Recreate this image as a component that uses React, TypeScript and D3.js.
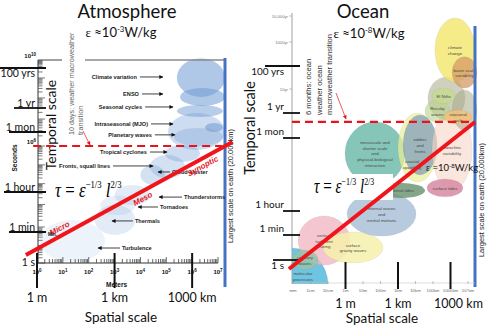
import React from "react";
import * as d3 from "d3";

// ---------- shared axis labels ----------
const timeLabels = ["1 s", "1 min", "1 hour", "1 mon", "1 yr", "100 yrs"];
const timeSeconds = [1, 60, 3600, 2.6e6, 3.15e7, 3.15e9];
const spaceLabels = ["1 m", "1 km", "1000 km"];
const spaceMeters = [1, 1e3, 1e6];

// ---------- atmosphere ----------
const atmMeterExponents = [0, 1, 2, 3, 4, 5, 6, 7];
const atmSecondExponents = [6, 10];

// phenomena blobs, extents in log10 metres / log10 seconds
const atmBlobL = [
  [0.12, 2.63], [2.24, 3.8], [2.44, 3.8], [3.0, 4.37], [4.0, 4.95], [4.37, 5.72],
  [4.95, 6.3], [5.07, 7.27], [5.3, 7.2], [6.5, 7.19], [5.41, 7.19], [5.41, 7.27], [5.53, 7.27],
];
const atmBlobT = [
  [0.06, 2.31], [1.61, 2.98], [2.53, 3.4], [2.97, 3.93], [3.93, 4.99], [4.3, 5.52],
  [5.15, 6.03], [5.79, 7.27], [6.0, 6.6], [6.415, 6.82], [7.09, 7.65], [8.05, 10.1], [7.6, 8.5],
];
const atmBlobTone = [0.12, 0.2, 0.15, 0.2, 0.3, 0.3, 0.35, 0.35, 0.3, 0.55, 0.5, 0.55, 0.55];

const atmPhenomena = [
  "Climate variation", "ENSO", "Seasonal cycles", "Intraseasonal (MJO)", "Planetary waves",
  "Tropical cyclones", "Fronts, squall lines", "Cloud cluster", "Thunderstorms", "Tornadoes",
  "Thermals", "Turbulence",
];
const atmPhenomenaT = [9.05, 8.2, 7.55, 6.78, 6.33, 5.68, 4.94, 4.62, 3.33, 2.89, 2.27, 0.86];
const atmArrowTip = [4.87, 4.87, 5.26, 5.26, 5.34, 5.03, 4.49, 4.68, 4.72, 3.91, 2.9, 2.36];
const atmArrowTail = [3.98, 4.06, 4.18, 4.41, 4.56, 4.37, 2.94, 5.14, 5.61, 4.68, 3.71, 3.21];

const atmLineL = [-0.43, 7.56];
const atmLineT = [0.46, 6.12];
const atmTransitionT = 6;
const atmTransitionL = [-0.15, 7.15];

// ---------- ocean ----------
const oceanMinorLabels = ["10yr", "1000yr", "10,000yr"];
const oceanMinorSeconds = [3.15e8, 3.15e10, 3.15e11];
const oceanSpaceTicks = ["mm", "1cm", "10cm", "1m", "10m", "100m", "1km", "10km", "100km", "1000km", "10⁴km"];

const oceanBlobNames = [
  "molecular|processes", "vertical|turbulent|mixing", "surface|gravity waves", "capillary|waves",
  "internal waves|and|inertial motions", "mesoscale and|shorter scale|and|physical-biological|interaction",
  "coastal|upwelling", "eddies|and|fronts", "baroclinic|variability", "internal tides", "surface tides",
  "", "", "Rossby|waves", "El Niño", "seasonal|cycle", "climate|change", "basin scale|variability",
];
const oceanBlobL = [
  [-5.1, -1.0], [-2.71, 0.26], [-1.29, 2.14], [-3.06, -1.57], [0.09, 4.03], [-0.03, 3.4],
  [3.0, 5.23], [3.29, 5.23], [4.94, 7.23], [1.86, 4.54], [4.66, 6.71],
  [4.71, 6.83], [6.09, 7.51], [4.54, 5.97], [4.94, 6.26], [5.63, 7.23], [5.11, 7.4], [6.09, 7.51],
];
const oceanBlobT = [
  [-4.27, 0.85], [-0.36, 3.19], [-0.21, 2.0], [-0.71, 0.71], [1.7, 4.3], [4.58, 7.2],
  [4.69, 7.5], [4.97, 7.43], [4.38, 7.62], [4.07, 4.65], [4.11, 4.81],
  [7.27, 9.02], [6.81, 8.46], [7.2, 8.04], [7.88, 8.54], [7.1, 7.62], [8.8, 11.42], [8.54, 9.88],
];
// label anchors (log10 m, log10 s) where the label is not at the blob centre
const oceanLabelAt: Record<string, number[]> = {
  "molecular|processes": [-2.43, -1.14],
  "coastal|upwelling": [3.8, 5.4],
};

const oceanLineL = [-3.23, 7.4];
const oceanLineT = [-0.64, 7.2];
const oceanTransitionT = 7.2;
const oceanTransitionL = [-3.06, 7.4];

const oceanFill: Record<string, string> = {
  "molecular|processes": "rgba(95,190,222,0.9)",
  "vertical|turbulent|mixing": "rgba(240,180,192,0.75)",
  "surface|gravity waves": "rgba(246,240,170,0.85)",
  "capillary|waves": "rgba(150,196,168,0.8)",
  "internal waves|and|inertial motions": "rgba(160,184,210,0.75)",
  "mesoscale and|shorter scale|and|physical-biological|interaction": "rgba(112,188,172,0.85)",
  "coastal|upwelling": "rgba(236,240,150,0.7)",
  "eddies|and|fronts": "rgba(120,152,188,0.7)",
  "baroclinic|variability": "rgba(246,214,196,0.6)",
  "internal tides": "rgba(110,150,118,0.85)",
  "surface tides": "rgba(216,138,162,0.85)",
  "": "rgba(168,170,136,0.55)",
  "Rossby|waves": "rgba(184,212,138,0.6)",
  "El Niño": "rgba(196,220,140,0.75)",
  "seasonal|cycle": "rgba(242,194,122,0.85)",
  "climate|change": "rgba(243,230,107,0.8)",
  "basin scale|variability": "rgba(212,154,100,0.75)",
};

const p10 = (v: number) => Math.pow(10, v);
const SANS = "Lato, 'Open Sans', sans-serif";
const ARIAL = "'Liberation Sans', Arial, sans-serif";
const SERIF = "'Liberation Serif', 'DejaVu Serif', serif";

function Formula({ x, y, size, sx }: { x: number; y: number; size: number; sx: number }) {
  const s = size * 0.52;
  const up = size * 0.42;
  return (
    <text transform={`translate(${x},${y}) scale(${sx},1)`} fontFamily={SERIF} fontSize={size} fill="#000">
      <tspan fontStyle="italic">τ</tspan>
      <tspan>{" = "}</tspan>
      <tspan fontStyle="italic">ε</tspan>
      <tspan dy={-up} fontSize={s}>−1/3</tspan>
      <tspan dy={up} fontStyle="italic">{" l"}</tspan>
      <tspan dy={-up} fontSize={s}>2/3</tspan>
    </text>
  );
}

function Epsilon({ x, y, exp, size }: { x: number; y: number; exp: number; size: number }) {
  return (
    <text x={x} y={y} fontFamily={SANS} fontSize={size} textAnchor="middle" fill="#111">
      <tspan fontFamily={SERIF}>ε</tspan>
      <tspan> ≈10</tspan>
      <tspan dy={-size * 0.4} fontSize={size * 0.6}>{exp}</tspan>
      <tspan dy={size * 0.4}>W/kg</tspan>
    </text>
  );
}

function lineLabel(p0: number[], p1: number[], f: number, off: number, text: string, key: string) {
  const dx = p1[0] - p0[0], dy = p1[1] - p0[1];
  const len = Math.hypot(dx, dy);
  const nx = dy / len, ny = -dx / len;
  const x = p0[0] + f * dx - nx * off, y = p0[1] + f * dy - ny * off;
  const ang = (Math.atan2(dy, dx) * 180) / Math.PI;
  return (
    <text key={key} x={x} y={y} transform={`rotate(${ang},${x},${y})`} textAnchor="middle"
      dominantBaseline="central" fontFamily={ARIAL} fontWeight="bold" fontStyle="italic"
      fontSize={8} fill="#e8141b">{text}</text>
  );
}

export default function App() {
  // atmosphere scales (the original ruler is not evenly spaced, so piecewise log)
  const yA = d3.scaleLog()
    .domain([1, 60, 3600, 1e6, 2.6e6, 3.15e7, 3.15e9, 1e10])
    .range([263, 232, 192, 146, 132, 108, 68, 60]);
  const xA = d3.scaleLog().domain([1, 1e7]).range([37, 218]);
  // ocean scales
  const yO = d3.scaleLog()
    .domain([1, 60, 3600, 2.6e6, 1.58e7, 3.15e7, 3.15e8, 3.15e9, 3.15e10, 3.15e11])
    .range([260, 235, 211, 138, 122, 113, 89, 66, 42, 16]);
  const xO = d3.scaleLog().domain([1e-3, 1e7]).range([293, 468]);

  const atmAxisX = xA(1) + 1;
  const atmBase = yA(1);
  const blueA = 225;
  const blueO = 475;
  const ocAxisX = xO(1e-3) - 1;

  // minor ticks
  const secTicks: number[][] = [];
  for (let d = 0; d < 10; d++) for (let m = 1; m < 10; m++) secTicks.push([m * p10(d), m]);
  const meterTicks: number[][] = [];
  for (let d = 0; d < 7; d++) for (let m = 1; m < 10; m++) meterTicks.push([m * p10(d), m]);
  meterTicks.push([1e7, 1]);

  const aP0 = [xA(p10(atmLineL[0])), yA(p10(atmLineT[0]))];
  const aP1 = [xA(p10(atmLineL[1])), yA(p10(atmLineT[1]))];
  const oP0 = [xO(p10(oceanLineL[0])), yO(p10(oceanLineT[0]))];
  const oP1 = [xO(p10(oceanLineL[1])), yO(p10(oceanLineT[1]))];

  return (
    <svg width={500} height={327} style={{ position: "absolute", left: 0, top: 0, background: "#fff" }}
      fontFamily={SANS}>
      <defs>
        <marker id="ahK" viewBox="0 0 10 10" refX={9} refY={5} markerWidth={5} markerHeight={4}
          markerUnits="userSpaceOnUse" orient="auto">
          <path d="M0,0L10,5L0,10z" fill="#111" />
        </marker>
        <marker id="ahR" viewBox="0 0 10 10" refX={9} refY={5} markerWidth={4} markerHeight={4}
          markerUnits="userSpaceOnUse" orient="auto">
          <path d="M0,0L10,5L0,10z" fill="#e8141b" />
        </marker>
        <clipPath id="ocClip">
          <rect x={ocAxisX} y={0} width={blueO - ocAxisX + 4} height={yO(p10(-1.71))} />
        </clipPath>
      </defs>

      {/* ================= ATMOSPHERE ================= */}
      <text x={127} y={18} textAnchor="middle" fontSize={18.5} fill="#111">Atmosphere</text>
      <Epsilon x={121} y={37} exp={-3} size={13} />

      {/* blobs */}
      <g>
        {atmBlobL.map((l, i) => {
          const x0 = xA(p10(l[0])), x1 = xA(p10(l[1]));
          const y0 = yA(p10(atmBlobT[i][0])), y1 = yA(p10(atmBlobT[i][1]));
          return (
            <ellipse key={i} cx={(x0 + x1) / 2} cy={(y0 + y1) / 2} rx={Math.abs(x1 - x0) / 2}
              ry={Math.abs(y0 - y1) / 2} fill="#6f9bd4" fillOpacity={atmBlobTone[i]} />
          );
        })}
      </g>

      {/* top frame line and blue right edge */}
      <line x1={atmAxisX} x2={62} y1={yA(1e10)} y2={yA(1e10)} stroke="#8a8a8a" strokeWidth={1.6} />
      <line x1={85} x2={blueA} y1={yA(1e10)} y2={yA(1e10)} stroke="#8a8a8a" strokeWidth={1.6} />
      <line x1={blueA} x2={blueA} y1={yA(1e10) - 2} y2={287} stroke="#4472c4" strokeWidth={3} />
      <text transform={`translate(${blueA + 8},${186}) rotate(-90)`} textAnchor="middle" fontSize={7.5}
        fontFamily={ARIAL} fill="#222">Largest scale on earth (20,000km)</text>

      {/* seconds ruler */}
      <line x1={atmAxisX} x2={atmAxisX} y1={yA(1e10)} y2={atmBase} stroke="#333" strokeWidth={1} />
      {secTicks.map(([v, m], i) => (
        <line key={i} x1={atmAxisX} x2={atmAxisX + (m === 1 ? 7 : 4.5)} y1={yA(v)} y2={yA(v)}
          stroke="#444" strokeWidth={0.7} />
      ))}
      {atmSecondExponents.map((e) => (
        <text key={e} x={atmAxisX - 2} y={yA(p10(e)) - 2} textAnchor="end" fontFamily={ARIAL}
          fontWeight="bold" fontSize={6} fill="#111">
          10<tspan dy={-2.5} fontSize={4.5}>{e}</tspan>
        </text>
      ))}
      <text transform="translate(17,158) rotate(-90)" textAnchor="middle" fontFamily={ARIAL}
        fontWeight="bold" fontSize={6.5} fill="#111">Seconds</text>
      {timeLabels.map((t, i) => {
        const y = yA(timeSeconds[i]);
        const below = t === "100 yrs" ? 9 : t === "1 s" ? 3 : -1;
        const start = 35 - t.length * 5 - 1;
        return (
          <g key={t}>
            {t !== "1 s" && <line x1={start} x2={atmAxisX + 8} y1={y} y2={y} stroke="#111" strokeWidth={1.8} />}
            <text x={35} y={y + below} textAnchor="end" fontSize={10.5} fill="#111">{t}</text>
          </g>
        );
      })}
      <text transform="translate(56,125) rotate(-90)" textAnchor="middle" fontSize={14} fill="#111">
        Temporal  scale
      </text>

      {/* transition annotation */}
      <text transform="translate(74,135) rotate(-90)" fontFamily={ARIAL} fontSize={7.2} fill="#666">
        10 days: weather macroweather
      </text>
      <text transform="translate(82.5,135) rotate(-90)" fontFamily={ARIAL} fontSize={7.2} fill="#666">
        transition
      </text>
      <line x1={83} y1={131} x2={90} y2={yA(p10(atmTransitionT)) - 1} stroke="#e8141b" strokeWidth={0.7}
        markerEnd="url(#ahR)" />
      <line x1={xA(p10(atmTransitionL[0]))} x2={xA(p10(atmTransitionL[1]))} y1={yA(p10(atmTransitionT))}
        y2={yA(p10(atmTransitionT))} stroke="#e8141b" strokeWidth={2.2} strokeDasharray="8,5" />

      {/* phenomena labels */}
      {atmPhenomena.map((name, i) => {
        const y = yA(p10(atmPhenomenaT[i]));
        const tip = xA(p10(atmArrowTip[i])), tail = xA(p10(atmArrowTail[i]));
        const leftText = tail < tip;
        return (
          <g key={name}>
            <line x1={tail} x2={tip} y1={y} y2={y} stroke="#111" strokeWidth={0.8} markerEnd="url(#ahK)" />
            <text x={leftText ? tail - 3 : tail + 2} y={y} dominantBaseline="central"
              textAnchor={leftText ? "end" : "start"} fontFamily={ARIAL} fontWeight="bold" fontSize={5.6}
              fill="#1a1a1a">{name}</text>
          </g>
        );
      })}

      {/* metres axis */}
      <line x1={xA(1)} x2={xA(1e7)} y1={atmBase} y2={atmBase} stroke="#333" strokeWidth={1} />
      {meterTicks.map(([v, m], i) => (
        <line key={i} x1={xA(v)} x2={xA(v)} y1={atmBase} y2={atmBase - (m === 1 ? 6 : 4)} stroke="#444"
          strokeWidth={0.8} />
      ))}
      {atmMeterExponents.map((e) => (
        <text key={e} x={xA(p10(e))} y={274} textAnchor="middle" fontFamily={ARIAL} fontWeight="bold"
          fontSize={6} fill="#111">
          10<tspan dy={-2.5} fontSize={4.5}>{e}</tspan>
        </text>
      ))}
      <text x={xA(1e3) + 2} y={287} textAnchor="middle" fontFamily={ARIAL} fontWeight="bold" fontSize={6.5}
        fill="#111">Meters</text>
      {spaceMeters.map((m, i) => (
        <g key={m}>
          <line x1={xA(m)} x2={xA(m)} y1={253} y2={288} stroke="#111" strokeWidth={2} />
          <text x={xA(m)} y={302} textAnchor="middle" fontSize={12.5} fill="#111">{spaceLabels[i]}</text>
        </g>
      ))}
      <text x={121} y={322} textAnchor="middle" fontSize={13.5} fill="#111">Spatial scale</text>

      {/* scaling line */}
      <line x1={aP0[0]} y1={aP0[1]} x2={aP1[0]} y2={aP1[1]} stroke="#f0141b" strokeWidth={4} />
      {lineLabel(aP0, aP1, 0.18, -7, "Micro", "mi")}
      {lineLabel(aP0, aP1, 0.55, 7, "Meso", "me")}
      {lineLabel(aP0, aP1, 0.84, 7, "Synoptic", "sy")}
      <text x={48} y={236} fontFamily={ARIAL} fontWeight="bold" fontSize={4.5} fill="#111">Min.</text>
      <Formula x={55} y={197} size={21} sx={0.8} />

      {/* ================= OCEAN ================= */}
      <text x={363} y={18} textAnchor="middle" fontSize={18.5} fill="#111">Ocean</text>
      <Epsilon x={369} y={38} exp={-8} size={13} />

      {/* ocean axis */}
      <line x1={ocAxisX} x2={ocAxisX} y1={13} y2={284} stroke="#b0b0b0" strokeWidth={1.2} />
      {oceanMinorLabels.map((t, i) => (
        <g key={t}>
          <line x1={ocAxisX - 3} x2={ocAxisX} y1={yO(oceanMinorSeconds[i])} y2={yO(oceanMinorSeconds[i])}
            stroke="#999" strokeWidth={0.6} />
          <text x={ocAxisX - 4} y={yO(oceanMinorSeconds[i])} dominantBaseline="central" textAnchor="end"
            fontFamily={ARIAL} fontSize={4.2} fill="#777">{t}</text>
        </g>
      ))}

      {/* ocean blobs */}
      <g clipPath="url(#ocClip)">
        {oceanBlobNames.map((n, i) => {
          const x0 = xO(p10(oceanBlobL[i][0])), x1 = xO(p10(oceanBlobL[i][1]));
          const y0 = yO(p10(oceanBlobT[i][0])), y1 = yO(p10(oceanBlobT[i][1]));
          return (
            <ellipse key={i} cx={(x0 + x1) / 2} cy={(y0 + y1) / 2} rx={Math.abs(x1 - x0) / 2}
              ry={Math.abs(y0 - y1) / 2} fill={oceanFill[n]} stroke="rgba(120,120,120,0.25)" strokeWidth={0.4} />
          );
        })}
      </g>
      {oceanBlobNames.map((n, i) => {
        if (!n) return null;
        const at = oceanLabelAt[n];
        const cx = at ? xO(p10(at[0])) : (xO(p10(oceanBlobL[i][0])) + xO(p10(oceanBlobL[i][1]))) / 2;
        const cy = at ? yO(p10(at[1])) : (yO(p10(oceanBlobT[i][0])) + yO(p10(oceanBlobT[i][1]))) / 2;
        const lines = n.split("|");
        return (
          <text key={n} x={cx} y={cy - ((lines.length - 1) * 5.6) / 2} textAnchor="middle"
            dominantBaseline="central" fontFamily={ARIAL} fontSize={4.4} fill="#4a4a4a">
            {lines.map((s, j) => (
              <tspan key={j} x={cx} dy={j === 0 ? 0 : 5.6}>{s}</tspan>
            ))}
          </text>
        );
      })}

      <line x1={blueO} x2={blueO} y1={26} y2={287} stroke="#4472c4" strokeWidth={3} />
      <text transform={`translate(${blueO + 9},${200}) rotate(-90)`} textAnchor="middle" fontSize={7.5}
        fontFamily={ARIAL} fill="#222">Largest scale on earth (20,000km)</text>

      {/* ocean time labels */}
      {timeLabels.map((t, i) => {
        const y = yO(timeSeconds[i]);
        const below = t === "100 yrs" || t === "1 s" ? 9 : -3;
        const x1 = t === "100 yrs" ? 265 : t === "1 s" ? 273 : 283;
        return (
          <g key={t}>
            <line x1={x1} x2={300} y1={y} y2={y} stroke="#111" strokeWidth={1.8} />
            <text x={284} y={y + below} textAnchor="end" fontSize={10} fill="#111">{t}</text>
          </g>
        );
      })}
      <text transform="translate(255,128) rotate(-90)" textAnchor="middle" fontSize={14.5} fill="#111">
        Temporal scale
      </text>

      {/* 6 months annotation */}
      {["6 months: ocean", "weather ocean", "macroweather transition"].map((s, i) => (
        <text key={s} transform={`translate(${311 + i * 10.5},115) rotate(-90)`} fontFamily={ARIAL}
          fontSize={7.6} fill="#333">{s}</text>
      ))}
      <line x1={336} y1={93} x2={346} y2={yO(p10(oceanTransitionT)) - 3} stroke="#e8141b" strokeWidth={0.7}
        markerEnd="url(#ahR)" />
      <line x1={xO(p10(oceanTransitionL[0]))} x2={xO(p10(oceanTransitionL[1]))}
        y1={yO(p10(oceanTransitionT))} y2={yO(p10(oceanTransitionT))} stroke="#e8141b" strokeWidth={2.2}
        strokeDasharray="8,5" />

      {/* x axis */}
      <line x1={ocAxisX} x2={blueO} y1={283} y2={283} stroke="#c8c8c8" strokeWidth={0.6} />
      {oceanSpaceTicks.map((t, i) => (
        <g key={t}>
          <line x1={xO(p10(i - 3))} x2={xO(p10(i - 3))} y1={281} y2={284} stroke="#999" strokeWidth={0.6} />
          <text x={xO(p10(i - 3))} y={292} textAnchor="middle" fontFamily={ARIAL} fontSize={4.3}
            fill="#666">{t}</text>
        </g>
      ))}
      {spaceMeters.map((m, i) => (
        <g key={m}>
          <line x1={xO(m)} x2={xO(m)} y1={262} y2={289} stroke="#111" strokeWidth={2} />
          <text x={xO(m) + (i === 2 ? 8 : 0)} y={308} textAnchor="middle" fontSize={12.5} fill="#111">
            {spaceLabels[i]}
          </text>
        </g>
      ))}
      <text x={382} y={323} textAnchor="middle" fontSize={13.5} fill="#111">Spatial scale</text>

      {/* scaling line + formula */}
      <rect x={311} y={174} width={82} height={26} fill="#fff" />
      <line x1={oP0[0]} y1={oP0[1]} x2={oP1[0]} y2={oP1[1]} stroke="#f0141b" strokeWidth={4} />
      <Formula x={314} y={193} size={20} sx={0.76} />
      <text x={426} y={171} fontSize={9.5} fill="#111">
        <tspan fontFamily={SERIF}>ε</tspan> =10<tspan dy={-3.5} fontSize={6}>-8</tspan>
        <tspan dy={3.5}>W/kg</tspan>
      </text>
    </svg>
  );
}
